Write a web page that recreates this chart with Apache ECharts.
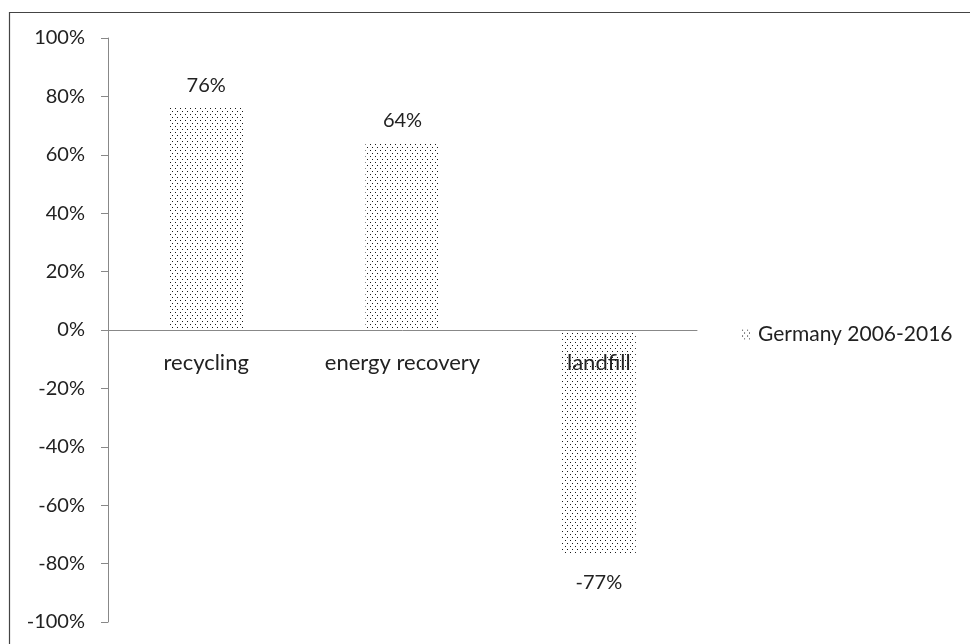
<!DOCTYPE html>
<html>
<head>
<meta charset="utf-8">
<script src="https://cdn.jsdelivr.net/npm/echarts@6/dist/echarts.min.js"></script>
<style>
  html, body { margin: 0; padding: 0; background: #fff; }
  #chart { width: 970px; height: 644px; }
</style>
</head>
<body>
<div id="chart"></div>
<script>
  var categories = ["recycling", "energy recovery", "landfill"];
  var seriesName = "Germany 2006-2016";
  var values = [76, 64, -77];
  var yTicks = [-100, -80, -60, -40, -20, 0, 20, 40, 60, 80, 100];

  // dotted fill like the original
  function dotPattern() {
    var c = document.createElement("canvas");
    c.width = 5;
    c.height = 6;
    var ctx = c.getContext("2d");
    ctx.fillStyle = "#ffffff";
    ctx.fillRect(0, 0, 5, 6);
    ctx.fillStyle = "#1a1a1a";
    ctx.fillRect(0, 0, 1, 1);
    ctx.fillRect(2, 3, 1, 1);
    return c;
  }
  var dots = { image: dotPattern(), repeat: "repeat" };

  var font = "Lato";
  var fs = 20;      // numbers
  var fsText = 22;  // words
  var gridTop = 38, gridBottom = 22;
  var plotH = 644 - gridTop - gridBottom;

  var chart = echarts.init(document.getElementById("chart"));
  chart.setOption({
    animation: false,
    textStyle: { fontFamily: font },
    graphic: [
      {
        type: "rect",
        shape: { x: 9.5, y: 12.5, width: 970, height: 650 },
        style: { fill: "none", stroke: "#444", lineWidth: 1.2 },
        silent: true
      }
    ],
    legend: {
      data: [{ name: seriesName, icon: "rect" }],
      left: 737,
      top: 319,
      itemWidth: 8,
      itemHeight: 10,
      itemGap: 6,
      textStyle: { fontFamily: font, fontSize: 21, color: "#222", padding: [0, 0, 0, 3] }
    },
    grid: {
      left: 108, right: 273, top: gridTop, bottom: gridBottom,
      containLabel: false, outerBoundsMode: "none"
    },
    xAxis: {
      type: "category",
      data: categories,
      position: "bottom",
      offset: -plotH / 2,
      axisLine: { onZero: false, lineStyle: { color: "#888", width: 1 } },
      axisTick: { show: false },
      axisLabel: {
        interval: 0, hideOverlap: false,
        margin: 22, fontSize: fsText, color: "#222", fontFamily: font
      },
      z: 10
    },
    yAxis: {
      type: "value",
      min: yTicks[0],
      max: yTicks[yTicks.length - 1],
      interval: 20,
      splitLine: { show: false },
      axisLine: { show: true, lineStyle: { color: "#888" } },
      axisTick: { show: true, inside: false, length: 7, lineStyle: { color: "#888" } },
      axisLabel: {
        margin: 23,
        fontSize: fs,
        color: "#222",
        fontFamily: font,
        formatter: function (v) { return v + "%"; }
      }
    },
    series: [
      {
        name: seriesName,
        type: "bar",
        barWidth: 74,
        itemStyle: { color: dots },
        data: values.map(function (v) {
          return {
            value: v,
            label: v >= 0
              ? { position: "top", distance: 13 }
              : { position: "bottom", distance: 18 }
          };
        }),
        label: {
          show: true,
          fontSize: fs,
          color: "#222",
          fontFamily: font,
          formatter: function (p) { return p.value + "%"; }
        }
      }
    ]
  });
</script>
</body>
</html>
